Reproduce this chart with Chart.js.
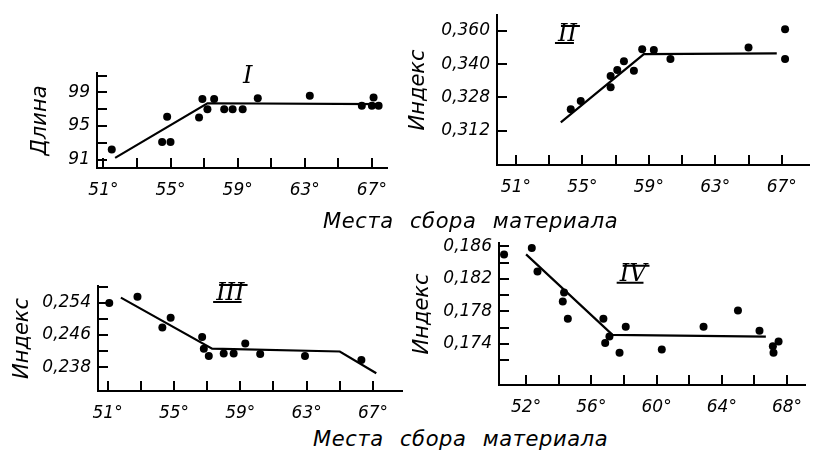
<!DOCTYPE html>
<html>
<head>
<meta charset="utf-8">
<script src="https://cdn.jsdelivr.net/npm/chart.js@4/dist/chart.umd.min.js"></script>
<style>
  body { margin: 0; background: #fff; width: 813px; height: 450px; position: relative; overflow: hidden; }
  .panel { position: absolute; }
  .xtitle { position: absolute; font: italic 21px "DejaVu Sans"; letter-spacing: 0.6px; word-spacing: 9px; color: #000; white-space: nowrap; }
</style>
</head>
<body>
<div class="panel" style="left:0;top:60px;width:400px;height:140px"><canvas id="c1"></canvas></div>
<div class="panel" style="left:400px;top:0;width:413px;height:200px"><canvas id="c2"></canvas></div>
<div class="panel" style="left:0;top:250px;width:406px;height:175px"><canvas id="c3"></canvas></div>
<div class="panel" style="left:400px;top:230px;width:413px;height:190px"><canvas id="c4"></canvas></div>
<div class="xtitle" style="left:323px;top:209px">Места сбора материала</div>
<div class="xtitle" style="left:313px;top:427px">Места сбора материала</div>

<script>
// I — Длина
const lat1 = [51.5, 54.5, 55.0, 54.8, 56.7, 56.9, 57.2, 57.6, 58.2, 58.7, 59.3, 60.2, 63.3, 66.4, 67.1, 67.0, 67.4];
const len1 = [92.2, 93.1, 93.1, 96.1, 96.0, 98.2, 97.0, 98.2, 97.0, 97.0, 97.0, 98.3, 98.6, 97.4, 98.4, 97.4, 97.4];
const fitLat1 = [51.7, 57.2, 67.6];
const fitLen1 = [91.2, 97.7, 97.6];

// II — Индекс
const lat2 = [54.3, 54.9, 56.7, 56.7, 57.1, 57.5, 58.1, 58.6, 59.3, 60.3, 65.0, 67.2, 67.2];
const idx2 = [0.3223, 0.3263, 0.3329, 0.3383, 0.3412, 0.3454, 0.3409, 0.3512, 0.3509, 0.3465, 0.3520, 0.3608, 0.3465];
const fitLat2 = [53.7, 58.7, 66.7];
const fitIdx2 = [0.3160, 0.3489, 0.3492];

// III — Индекс
const lat3 = [51.1, 52.8, 54.3, 54.8, 56.7, 56.8, 57.1, 58.0, 58.6, 59.3, 60.2, 62.9, 66.3];
const idx3 = [0.2540, 0.2555, 0.2479, 0.2503, 0.2455, 0.2426, 0.2408, 0.2414, 0.2414, 0.2439, 0.2413, 0.2408, 0.2398];
const fitLat3 = [51.8, 57.3, 65.0, 67.2];
const fitIdx3 = [0.2553, 0.2426, 0.2419, 0.2365];

// IV — Индекс
const lat4 = [50.65, 52.35, 52.7, 54.33, 54.25, 54.56, 56.74, 57.11, 56.85, 57.73, 58.11, 60.32, 62.88, 64.99, 66.31, 67.13, 67.17, 67.48];
const idx4 = [0.1850, 0.1858, 0.1829, 0.1803, 0.1792, 0.1771, 0.1771, 0.1749, 0.1741, 0.1729, 0.1761, 0.1733, 0.1761, 0.1781, 0.1756, 0.1737, 0.1729, 0.1743];
const fitLat4 = [52.0, 57.3, 66.7];
const fitIdx4 = [0.1850, 0.1751, 0.1749];

// Tick marks and the tick labels that are printed
const xTicksOdd = [51, 53, 55, 57, 59, 61, 63, 65, 67];
const xLabelsOdd = [51, 55, 59, 63, 67];
const xTicksEven = [52, 54, 56, 58, 60, 62, 64, 66, 68];
const xLabelsEven = [52, 56, 60, 64, 68];

const yTicks1 = [91, 93, 95, 97, 99, 101];
const yLabels1 = [91, 95, 99];
const yTicks2 = [0.312, 0.328, 0.344, 0.360];
const yText2 = ['0,312', '0,328', '0,340', '0,360'];
const yTicks3 = [0.238, 0.242, 0.246, 0.250, 0.254, 0.258];
const yLabels3 = [0.238, 0.246, 0.254];
const yTicks4 = [0.172, 0.174, 0.176, 0.178, 0.180, 0.182, 0.184, 0.186];
const yLabels4 = [0.174, 0.178, 0.182, 0.186];

const FONT = 'DejaVu Sans';

// short tick marks pointing into the plot, like in the book
const inwardTicks = {
  id: 'inwardTicks',
  afterDatasetsDraw(chart) {
    const ctx = chart.ctx;
    const area = chart.chartArea;
    const sx = chart.scales.x;
    const sy = chart.scales.y;
    ctx.save();
    ctx.fillStyle = '#000';
    sx.getTicks().forEach(t => {
      const px = Math.round(sx.getPixelForValue(t.value));
      ctx.fillRect(px - 1, area.bottom - 10, 2, 10);
    });
    sy.getTicks().forEach(t => {
      const py = Math.round(sy.getPixelForValue(t.value));
      ctx.fillRect(area.left, py - 1, 10, 2);
    });
    ctx.restore();
  }
};

// roman numeral of the panel
const panelLabel = {
  id: 'panelLabel',
  afterDraw(chart, args, opts) {
    if (!opts || !opts.text) return;
    const ctx = chart.ctx;
    const x = chart.scales.x.getPixelForValue(opts.x);
    const y = chart.scales.y.getPixelForValue(opts.y);
    ctx.save();
    ctx.font = 'italic 24px "DejaVu Serif"';
    ctx.fillStyle = '#000';
    ctx.strokeStyle = '#000';
    ctx.textAlign = 'center';
    ctx.textBaseline = 'middle';
    ctx.fillText(opts.text, x, y);
    if (opts.text.length > 1) {
      const w = ctx.measureText(opts.text).width;
      ctx.lineWidth = 2;
      ctx.beginPath();
      ctx.moveTo(x - w / 2 + 3, y - 9);
      ctx.lineTo(x + w / 2 + 3, y - 9);
      ctx.moveTo(x - w / 2 - 3, y + 8);
      ctx.lineTo(x + w / 2 - 3, y + 8);
      ctx.stroke();
    }
    ctx.restore();
  }
};

function near(list, v) {
  return list.findIndex(a => Math.abs(a - v) < 1e-6);
}

function makePanel(id, p) {
  const pts = p.xs.map((x, i) => ({ x: x, y: p.ys[i] }));
  const fit = p.fx.map((x, i) => ({ x: x, y: p.fy[i] }));
  return new Chart(document.getElementById(id), {
    type: 'scatter',
    data: {
      datasets: [
        {
          data: pts,
          backgroundColor: '#000',
          borderColor: '#000',
          pointRadius: 4,
          pointBorderWidth: 0
        },
        {
          data: fit,
          showLine: true,
          borderColor: '#000',
          borderWidth: 2.2,
          pointRadius: 0,
          tension: 0
        }
      ]
    },
    options: {
      responsive: true,
      maintainAspectRatio: false,
      animation: false,
      clip: false,
      layout: { padding: { top: p.padTop, right: p.padRight, left: 0, bottom: 0 } },
      plugins: {
        legend: { display: false },
        tooltip: { enabled: false },
        panelLabel: p.label
      },
      scales: {
        x: {
          type: 'linear',
          min: p.xMin,
          max: p.xMax,
          grid: { display: false, drawTicks: false },
          border: { display: true, color: '#000', width: 2 },
          afterBuildTicks: s => { s.ticks = p.xTicks.map(v => ({ value: v })); },
          afterFit: s => { s.height = p.xHeight; s.paddingLeft = 0; s.paddingRight = 0; },
          ticks: {
            autoSkip: false,
            maxRotation: 0,
            padding: 12,
            color: '#000',
            font: { family: FONT, size: 17, style: 'italic' },
            callback: v => p.xLabels.includes(v) ? v + '°' : ''
          }
        },
        y: {
          type: 'linear',
          min: p.yMin,
          max: p.yMax,
          grid: { display: false, drawTicks: false },
          border: { display: true, color: '#000', width: 2 },
          afterBuildTicks: s => { s.ticks = p.yTicks.map(v => ({ value: v })); },
          afterFit: s => { s.width = p.yWidth; s.paddingTop = 0; s.paddingBottom = 0; },
          title: {
            display: true,
            text: p.yTitle,
            color: '#000',
            font: { family: FONT, size: 21, style: 'italic' },
            padding: { top: p.titlePad, bottom: 0 }
          },
          ticks: {
            autoSkip: false,
            padding: 7,
            color: '#000',
            font: { family: FONT, size: 17, style: 'italic' },
            callback: p.yFormat
          }
        }
      }
    },
    plugins: [inwardTicks, panelLabel]
  });
}

makePanel('c1', {
  xs: lat1, ys: len1, fx: fitLat1, fy: fitLen1,
  xMin: 50.62, xMax: 67.9, yMin: 90, yMax: 101.3,
  xTicks: xTicksOdd, xLabels: xLabelsOdd, yTicks: yTicks1,
  yFormat: v => yLabels1.includes(v) ? String(v) : '',
  yTitle: 'Длина', titlePad: 28,
  padTop: 13, padRight: 13, yWidth: 97, xHeight: 32,
  label: { text: 'I', x: 59.6, y: 100.9 }
});

makePanel('c2', {
  xs: lat2, ys: idx2, fx: fitLat2, fy: fitIdx2,
  xMin: 49.86, xMax: 68.64, yMin: 0.2955, yMax: 0.3677,
  xTicks: xTicksOdd, xLabels: xLabelsOdd, yTicks: yTicks2,
  yFormat: v => { const i = near(yTicks2, v); return i >= 0 ? yText2[i] : ''; },
  yTitle: 'Индекс', titlePad: 6,
  padTop: 15, padRight: 3, yWidth: 97, xHeight: 35,
  label: { text: 'II', x: 54.1, y: 0.3581 }
});

makePanel('c3', {
  xs: lat3, ys: idx3, fx: fitLat3, fy: fitIdx3,
  xMin: 50.42, xMax: 68.75, yMin: 0.23207, yMax: 0.2582,
  xTicks: xTicksOdd, xLabels: xLabelsOdd, yTicks: yTicks3,
  yFormat: v => near(yLabels3, v) >= 0 ? v.toFixed(3).replace('.', ',') : '',
  yTitle: 'Индекс', titlePad: 10,
  padTop: 36, padRight: 4, yWidth: 98, xHeight: 34,
  label: { text: 'III', x: 58.4, y: 0.2562 }
});

makePanel('c4', {
  xs: lat4, ys: idx4, fx: fitLat4, fy: fitIdx4,
  xMin: 50.34, xMax: 69.1, yMin: 0.16894, yMax: 0.1864,
  xTicks: xTicksEven, xLabels: xLabelsEven, yTicks: yTicks4,
  yFormat: v => near(yLabels4, v) >= 0 ? v.toFixed(3).replace('.', ',') : '',
  yTitle: 'Индекс', titlePad: 10,
  padTop: 13, padRight: 8, yWidth: 99, xHeight: 35,
  label: { text: 'IV', x: 58.56, y: 0.1825 }
});
</script>
</body>
</html>
